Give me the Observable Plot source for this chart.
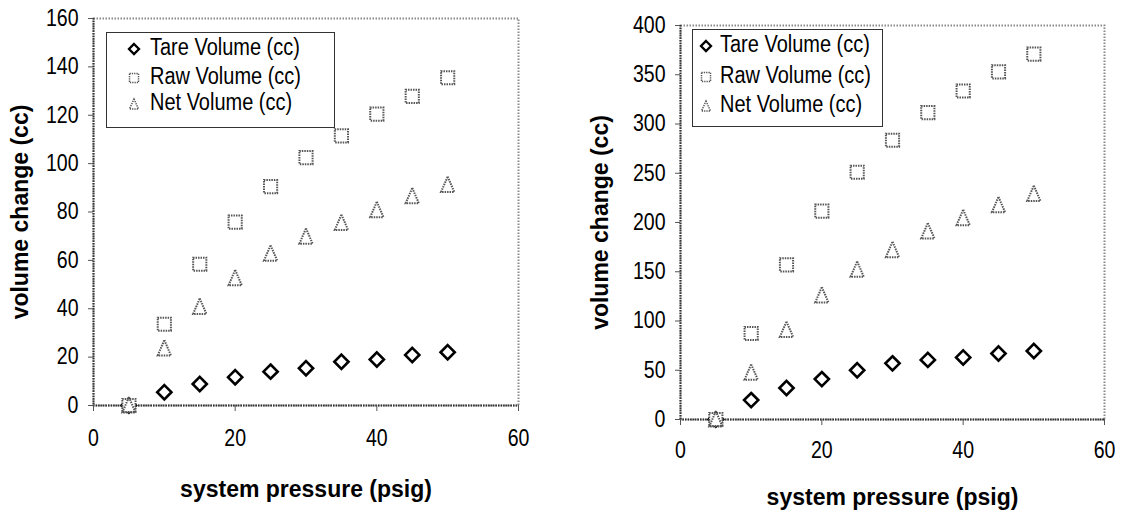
<!DOCTYPE html>
<html>
<head>
<meta charset="utf-8">
<script src="https://cdn.jsdelivr.net/npm/d3@7"></script>
<script src="https://cdn.jsdelivr.net/npm/@observablehq/plot@0.6"></script>
<style>
  body { margin: 0; background: #fff; }
  #wrap { position: relative; width: 1124px; height: 512px; overflow: hidden; background: #fff; }
  .panel { position: absolute; top: 0; }
  .legend { position: absolute; border: 1px solid #333; background: #fff; box-sizing: border-box; }
  .legend .row { position: absolute; left: 0; color: #000; white-space: nowrap; transform-origin: 0 50%; }
  .legend svg { position: absolute; overflow: visible; }
</style>
</head>
<body>
<div id="wrap"></div>
<script>
// ---- data ----
const pressure = [5, 10, 15, 20, 25, 30, 35, 40, 45, 50];
const seriesNames = ["Tare Volume (cc)", "Raw Volume (cc)", "Net Volume (cc)"];

const tareA = [0, 5.5, 8.9, 11.7, 14, 15.4, 18.1, 19, 20.9, 22];
const rawA  = [0, 33.6, 58.4, 75.8, 90.5, 102.5, 111.5, 120.5, 127.8, 135.5];
const netA  = [0, 23.6, 40.8, 52.6, 62.8, 69.8, 75.5, 80.8, 86.5, 91.2];

const tareB = [0, 19.7, 32, 41, 50, 57, 60.5, 63, 67, 69.5];
const rawB  = [0, 87.3, 157, 211.5, 251, 283.5, 311.5, 333.5, 353, 371];
const netB  = [0, 47.6, 91, 126, 152, 172, 191, 204.5, 217.5, 229];

const xTicks  = [0, 20, 40, 60];
const yTicksA = [0, 20, 40, 60, 80, 100, 120, 140, 160];
const yTicksB = [0, 50, 100, 150, 200, 250, 300, 350, 400];

const xLabel = "system pressure (psig)";
const yLabel = "volume change (cc)";

const FONT = "'Liberation Sans', Arial, sans-serif";
const TICK_FS = 23;
const LEG_FS = 23.5;
const SQUEEZE = 0.85;   // the original uses a tall, condensed sans
const TITLE_FS = 23;

const wrap = document.getElementById("wrap");

// taller, Excel-like triangle
const triTall = {
  draw(ctx, size) {
    const k = Math.sqrt(size) / 11.3;
    const h = 8.3 * k, w = 6.6 * k;
    ctx.moveTo(0, -h);
    ctx.lineTo(w, h * 0.85);
    ctx.lineTo(-w, h * 0.85);
    ctx.closePath();
  }
};

function squeezeText(svg) {
  d3.select(svg).selectAll('g[aria-label="y-axis tick label"] text, g[aria-label="x-axis tick label"] text').each(function () {
    let t = this.getAttribute("transform") || "";
    const xa = this.getAttribute("x");
    if (xa != null && /^-?[\d.]+$/.test(xa.trim())) {
      t += ` translate(${+xa},0)`;
      this.removeAttribute("x");
    }
    this.setAttribute("transform", `${t} scale(${SQUEEZE},1)`);
  });
}

function makePanel(cfg) {
  const rows = pressure.map((p, i) => ({p, tare: cfg.tare[i], raw: cfg.raw[i], net: cfg.net[i]}));
  const chart = Plot.plot({
    width: cfg.width,
    height: 512,
    marginLeft: cfg.ml,
    marginRight: cfg.mr,
    marginTop: cfg.mt,
    marginBottom: cfg.mb,
    x: {domain: [0, 60]},
    y: {domain: cfg.ydomain},
    style: {fontFamily: FONT, fontSize: TICK_FS + "px", background: "white", color: "black", overflow: "visible"},
    marks: [
      Plot.frame({stroke: "#8a8a8a", strokeWidth: 2, strokeDasharray: "1.5,1.5"}),
      Plot.ruleX([0], {stroke: "#333", strokeWidth: 2, strokeDasharray: "1.5,1"}),
      Plot.ruleY([0], {stroke: "#333", strokeWidth: 2, strokeDasharray: "1.5,1"}),
      Plot.axisY({ticks: cfg.yticks, tickSize: 5, tickPadding: 10, label: null, stroke: "#555", fill: "black", fontSize: TICK_FS}),
      Plot.axisX({ticks: xTicks, tickSize: 6, tickPadding: cfg.xpad, label: null, stroke: "#555", fill: "black", fontSize: TICK_FS}),
      Plot.text([yLabel], {text: d => d, frameAnchor: "left", dx: cfg.ydx, rotate: -90, textAnchor: "middle", lineAnchor: "middle", fontWeight: "bold", fontSize: TITLE_FS, fill: "black"}),
      Plot.text([xLabel], {text: d => d, frameAnchor: "bottom", dy: cfg.xdy, textAnchor: "middle", lineAnchor: "middle", fontWeight: "bold", fontSize: TITLE_FS, fill: "black"}),
      Plot.dot(rows, {x: "p", y: "tare", symbol: "diamond2", r: 6.4, stroke: "black", strokeWidth: 2.6, fill: "white"}),
      Plot.dot(rows, {x: "p", y: "raw", symbol: "square2", r: 8.4, stroke: "#555", strokeWidth: 2, strokeDasharray: "1.5,1", fill: "white"}),
      Plot.dot(rows, {x: "p", y: "net", symbol: triTall, r: 6.4, stroke: "#555", strokeWidth: 2, strokeDasharray: "1.5,1", fill: "none"})
    ]
  });
  squeezeText(chart);
  const holder = document.createElement("div");
  holder.className = "panel";
  holder.style.left = cfg.left + "px";
  holder.appendChild(chart);
  wrap.appendChild(holder);
}

function makeLegend(cfg) {
  const box = document.createElement("div");
  box.className = "legend";
  Object.assign(box.style, {left: cfg.left + "px", top: cfg.top + "px", width: cfg.w + "px", height: cfg.h + "px"});
  const symbols = ["diamond", "square", "triangle"];
  seriesNames.forEach((name, i) => {
    const cy = cfg.rows[i];
    const ns = "http://www.w3.org/2000/svg";
    const s = document.createElementNS(ns, "svg");
    s.setAttribute("width", 14); s.setAttribute("height", 14);
    s.style.left = (cfg.sx - 7) + "px"; s.style.top = (cy - 7) + "px";
    const path = document.createElementNS(ns, "path");
    if (symbols[i] === "diamond") {
      path.setAttribute("d", "M7,2L12,7L7,12L2,7Z");
      path.setAttribute("stroke", "black"); path.setAttribute("stroke-width", "2.3"); path.setAttribute("fill", "white");
    } else if (symbols[i] === "square") {
      path.setAttribute("d", "M2.5,2.5H11.5V11.5H2.5Z");
      path.setAttribute("stroke", "#555"); path.setAttribute("stroke-width", "1.5"); path.setAttribute("stroke-dasharray", "1.3,1"); path.setAttribute("fill", "none");
    } else {
      path.setAttribute("d", "M7,2L11.5,12H2.5Z");
      path.setAttribute("stroke", "#555"); path.setAttribute("stroke-width", "1.5"); path.setAttribute("stroke-dasharray", "1.3,1"); path.setAttribute("fill", "none");
    }
    s.appendChild(path);
    box.appendChild(s);
    const t = document.createElement("div");
    t.className = "row";
    t.textContent = name;
    Object.assign(t.style, {fontFamily: FONT, fontSize: LEG_FS + "px", lineHeight: LEG_FS + "px",
      left: cfg.tx + "px", top: (cy - LEG_FS / 2 - 1) + "px", transform: `scaleX(${SQUEEZE})`});
    box.appendChild(t);
  });
  wrap.appendChild(box);
}

makePanel({left: 0, width: 560, ml: 93, mr: 42, mt: 18, mb: 107, ydomain: [0, 160], yticks: yTicksA,
  tare: tareA, raw: rawA, net: netA, xpad: 18, ydx: -73, xdy: 84});
makePanel({left: 560, width: 564, ml: 120, mr: 20, mt: 25, mb: 93, ydomain: [0, 400], yticks: yTicksB,
  tare: tareB, raw: rawB, net: netB, xpad: 16, ydx: -80, xdy: 78});

makeLegend({left: 106, top: 32, w: 229, h: 96, sx: 27, tx: 43, rows: [16, 45, 71]});
makeLegend({left: 692, top: 29, w: 191, h: 98, sx: 13, tx: 27, rows: [16, 47, 76]});
</script>
</body>
</html>
